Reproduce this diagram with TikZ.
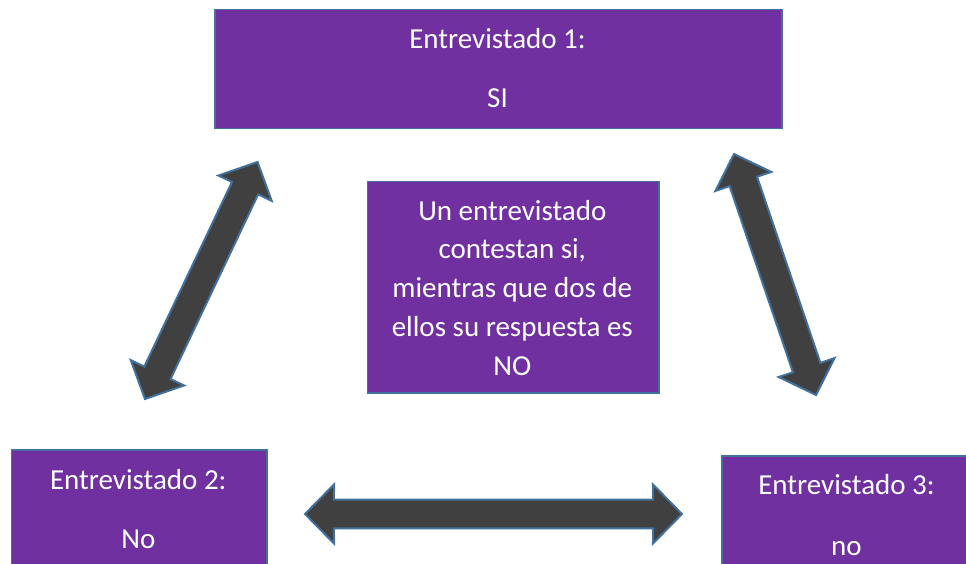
\documentclass[tikz,border=0pt]{standalone}
\usepackage{fontspec}
\setmainfont{Carlito}
\usetikzlibrary{calc}
\definecolor{boxpurple}{HTML}{7030A0}
\definecolor{edgeblue}{HTML}{41719C}
\definecolor{arrowgray}{HTML}{404040}
\tikzset{
  box/.style={draw=edgeblue, fill=boxpurple, line width=1.5pt, inner sep=0pt, anchor=north west},
  txt/.style={text=white, font=\fontsize{29}{38.75}\selectfont, align=center, inner sep=0pt},
  blockarrow/.style={draw=edgeblue, fill=arrowgray, line width=2pt, line join=miter}
}
\newcommand\dblarrow[2]{%
  \filldraw[blockarrow] (#1) -- ($(#1)!41.4pt!45.5:(#2)$) -- ($(#1)!32.4pt!26.57:(#2)$)
    -- ($(#2)!32.4pt!-26.57:(#1)$) -- ($(#2)!41.4pt!-45.5:(#1)$) -- (#2)
    -- ($(#2)!41.4pt!45.5:(#1)$) -- ($(#2)!32.4pt!26.57:(#1)$)
    -- ($(#1)!32.4pt!-26.57:(#2)$) -- ($(#1)!41.4pt!-45.5:(#2)$) -- cycle;}
\begin{document}
\begin{tikzpicture}[x=1pt, y=-1pt]
\useasboundingbox (0,0) rectangle (966,564);
\clip (0,0) rectangle (966,564);
% boxes
\node[box, minimum width=567pt, minimum height=119pt] (e1) at (214,9) {};
\node[box, minimum width=291.4pt, minimum height=211pt] (ctr) at (366.6,181) {};
\node[box, minimum width=255.5pt, minimum height=130pt] (e2) at (10.5,449) {};
\node[box, minimum width=256pt, minimum height=130pt] (e3) at (721,455) {};
% texts
\node[txt, anchor=base] (e1a) at (497.5,48.6) {Entrevistado 1:};
\node[txt, anchor=base] (e1b) at (497.5,108) {SI};
\node[txt, anchor=base] (ctrt) at (512.3,375) {Un entrevistado\\contestan si,\\mientras que dos de\\ellos su respuesta es\\NO};
\node[txt, anchor=base] (e2a) at (138.3,489) {Entrevistado 2:};
\node[txt, anchor=base] (e2b) at (138.3,548.5) {No};
\node[txt, anchor=base] (e3a) at (846.5,494.6) {Entrevistado 3:};
\node[txt, anchor=base] (e3b) at (846.5,555.7) {no};
% arrow ends
\coordinate (l1) at (145,399);
\coordinate (l2) at (257.5,162);
\coordinate (r1) at (734,154);
\coordinate (r2) at (816,395);
\coordinate (h1) at (305,514);
\coordinate (h2) at (682,514);
\dblarrow{l1}{l2}
\dblarrow{r1}{r2}
\dblarrow{h1}{h2}
\end{tikzpicture}
\end{document}
